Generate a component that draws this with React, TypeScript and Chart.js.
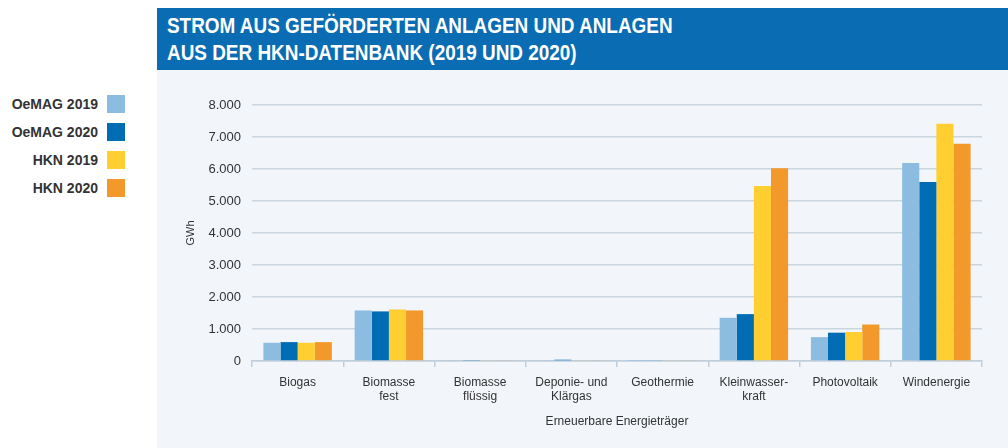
import React, { useEffect, useRef } from "react";
import { Chart, registerables } from "chart.js";

Chart.register(...registerables);

const categories: (string | string[])[] = [
  "Biogas",
  ["Biomasse", "fest"],
  ["Biomasse", "flüssig"],
  ["Deponie- und", "Klärgas"],
  "Geothermie",
  ["Kleinwasser-", "kraft"],
  "Photovoltaik",
  "Windenergie",
];

const oemag2019 = [570, 1580, 20, 20, 10, 1350, 745, 6190];
const oemag2020 = [590, 1550, 30, 40, 20, 1465, 885, 5595];
const hkn2019 = [570, 1610, 20, 20, 20, 5470, 905, 7415];
const hkn2020 = [590, 1580, 20, 20, 20, 6020, 1140, 6790];

const seriesLabels = ["OeMAG 2019", "OeMAG 2020", "HKN 2019", "HKN 2020"];
const seriesColors = ["#8cbce0", "#006cb4", "#ffcf31", "#f3982a"];

const yTicks = [0, 1000, 2000, 3000, 4000, 5000, 6000, 7000, 8000];

const titleLines = [
  "STROM AUS GEFÖRDERTEN ANLAGEN UND ANLAGEN",
  "AUS DER HKN-DATENBANK (2019 UND 2020)",
];

const fmt = (v: number) => String(v).replace(/\B(?=(\d{3})+(?!\d))/g, ".");

export default function App() {
  const ref = useRef<HTMLCanvasElement | null>(null);

  useEffect(() => {
    if (!ref.current) return;
    const values = [oemag2019, oemag2020, hkn2019, hkn2020];
    const chart = new Chart(ref.current, {
      type: "bar",
      data: {
        labels: categories,
        datasets: values.map((d, i) => ({
          label: seriesLabels[i],
          data: d,
          backgroundColor: seriesColors[i],
          borderWidth: 0,
          categoryPercentage: 0.75,
          barPercentage: 1.0,
        })),
      },
      options: {
        animation: false,
        responsive: false,
        maintainAspectRatio: false,
        layout: { padding: { left: 20, right: 26, top: 35, bottom: 12 } },
        plugins: { legend: { display: false }, tooltip: { enabled: false } },
        scales: {
          x: {
            offset: true,
            grid: {
              display: true,
              drawOnChartArea: false,
              drawTicks: true,
              tickLength: 6,
              color: "#c0cedc",
              lineWidth: 1.5,
              offset: true,
            },
            border: { display: true, color: "#c0cedc", width: 1.5 },
            ticks: {
              color: "#333333",
              font: { family: "'Liberation Sans', Arial, sans-serif", size: 12 },
              padding: 8,
              maxRotation: 0,
              autoSkip: false,
            },
            title: {
              display: true,
              text: "Erneuerbare Energieträger",
              color: "#333333",
              font: { family: "'Liberation Sans', Arial, sans-serif", size: 12 },
              padding: { top: 0, bottom: 7 },
            },
            afterFit: (s: any) => {
              s.height = 75;
            },
          },
          y: {
            min: 0,
            max: 8000,
            afterBuildTicks: (s: any) => {
              s.ticks = yTicks.map((v) => ({ value: v }));
            },
            grid: { color: "#c9d5e1", lineWidth: 1.5, drawTicks: false },
            border: { display: false },
            ticks: {
              color: "#333333",
              font: { family: "'Liberation Sans', Arial, sans-serif", size: 13 },
              padding: 11,
              callback: (v: any) => fmt(Number(v)),
            },
            title: {
              display: true,
              text: "GWh",
              color: "#333333",
              font: { family: "'Liberation Sans', Arial, sans-serif", size: 11 },
              padding: { top: 7, bottom: 0 },
            },
            afterFit: (s: any) => {
              s.width = 75;
            },
          },
        },
      },
    });
    return () => chart.destroy();
  }, []);

  return (
    <div
      style={{
        position: "fixed",
        left: 0,
        top: 0,
        width: 1008,
        height: 448,
        background: "#ffffff",
        overflow: "hidden",
      }}
    >
      <div
        style={{
          position: "absolute",
          left: 157,
          top: 8,
          width: 851,
          height: 62,
          background: "#0a6cb3",
        }}
      >
        {titleLines.map((t, i) => (
          <div
            key={i}
            style={{
              position: "absolute",
              left: 10,
              top: 5 + i * 27,
              color: "#ffffff",
              fontFamily: "'Liberation Sans', Arial, sans-serif",
              fontWeight: 700,
              fontSize: 22,
              lineHeight: "26px",
              whiteSpace: "nowrap",
              transform: "scaleX(0.86)",
              transformOrigin: "0 50%",
            }}
          >
            {t}
          </div>
        ))}
      </div>
      <div
        style={{
          position: "absolute",
          left: 157,
          top: 70,
          width: 851,
          height: 378,
          background: "#f2f6fa",
        }}
      />
      <canvas
        ref={ref}
        width={851}
        height={378}
        style={{ position: "absolute", left: 157, top: 70, width: 851, height: 378 }}
      />
      {seriesLabels.map((l, i) => (
        <React.Fragment key={l}>
          <div
            style={{
              position: "absolute",
              right: 1008 - 98,
              top: 104 + i * 28 - 9,
              height: 18,
              lineHeight: "18px",
              fontFamily: "'Liberation Sans', Arial, sans-serif",
              fontWeight: 700,
              fontSize: 14,
              color: "#333333",
              whiteSpace: "nowrap",
            }}
          >
            {l}
          </div>
          <div
            style={{
              position: "absolute",
              left: 107,
              top: 104 + i * 28 - 9,
              width: 18,
              height: 18,
              background: seriesColors[i],
            }}
          />
        </React.Fragment>
      ))}
    </div>
  );
}
